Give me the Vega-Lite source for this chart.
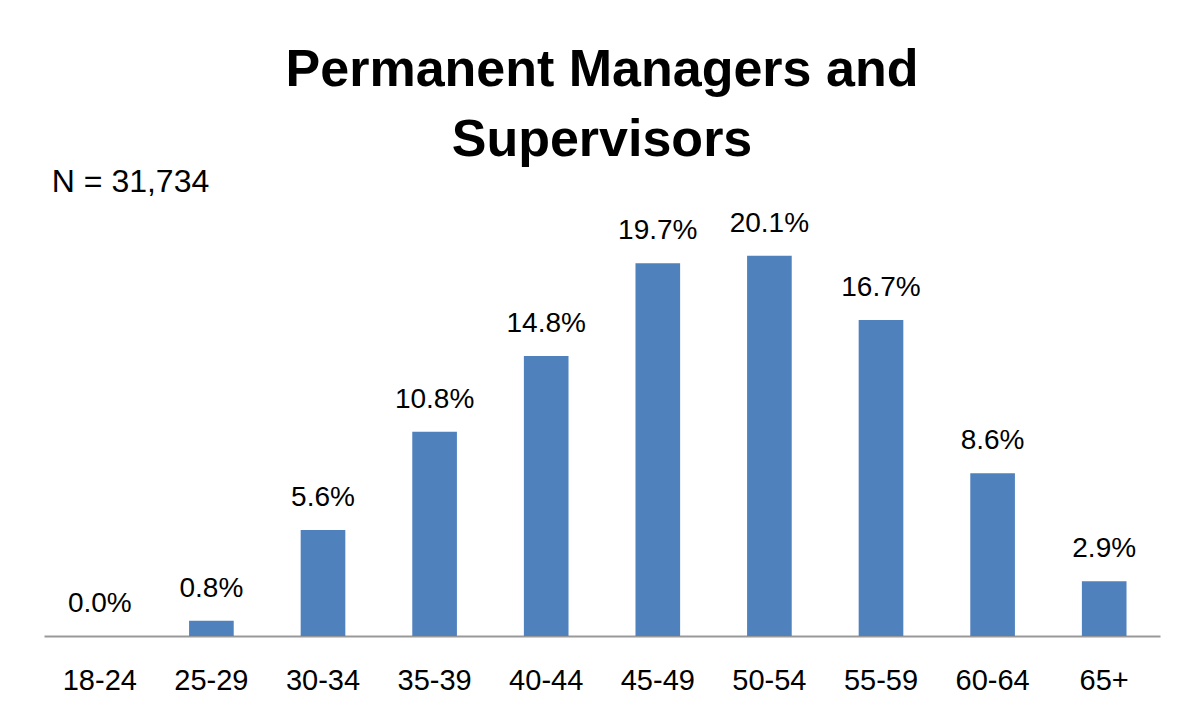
{
  "$schema": "https://vega.github.io/schema/vega-lite/v6.json",
  "autosize": "none",
  "width": 1116,
  "height": 454,
  "padding": {"left": 44, "top": 182, "right": 26, "bottom": 79},
  "background": "white",
  "config": {"view": {"stroke": null}, "font": "Liberation Sans"},
  "title": {
    "text": ["Permanent Managers and", "Supervisors"],
    "anchor": "middle",
    "font": "Liberation Sans",
    "fontSize": 52,
    "fontWeight": "bold",
    "color": "#000000",
    "lineHeight": 70,
    "offset": -1
  },
  "layer": [
    {
      "data": {
        "values": [
          {"age": "18-24", "share": 0.0},
          {"age": "25-29", "share": 0.008},
          {"age": "30-34", "share": 0.056},
          {"age": "35-39", "share": 0.108},
          {"age": "40-44", "share": 0.148},
          {"age": "45-49", "share": 0.197},
          {"age": "50-54", "share": 0.201},
          {"age": "55-59", "share": 0.167},
          {"age": "60-64", "share": 0.086},
          {"age": "65+", "share": 0.029}
        ]
      },
      "encoding": {
        "x": {
          "field": "age",
          "type": "nominal",
          "sort": null,
          "scale": {"paddingInner": 0.6, "paddingOuter": 0.3},
          "axis": {
            "title": null,
            "labelAngle": 0,
            "labelFontSize": 29,
            "labelColor": "#000000",
            "labelFont": "Liberation Sans",
            "labelBaseline": "top",
            "labelPadding": 30,
            "ticks": false,
            "tickSize": 0,
            "domainColor": "#999999",
            "domainWidth": 2,
            "grid": false
          }
        },
        "y": {
          "field": "share",
          "type": "quantitative",
          "scale": {"domain": [0, 0.24], "nice": false, "zero": true},
          "axis": null
        }
      },
      "layer": [
        {"mark": {"type": "bar", "color": "#4F81BD"}},
        {
          "mark": {"type": "text", "baseline": "alphabetic", "dy": -24, "fontSize": 28, "color": "#000000", "font": "Liberation Sans"},
          "encoding": {"text": {"field": "share", "type": "quantitative", "format": ".1%"}}
        }
      ]
    },
    {
      "data": {"values": [{"note": "N = 31,734", "anchor": "18-24", "level": 0.2349}]},
      "mark": {"type": "text", "align": "left", "baseline": "alphabetic", "dx": -48, "fontSize": 32, "color": "#000000", "font": "Liberation Sans"},
      "encoding": {
        "x": {"field": "anchor", "type": "nominal"},
        "y": {"field": "level", "type": "quantitative"},
        "text": {"field": "note", "type": "nominal"}
      }
    }
  ]
}
